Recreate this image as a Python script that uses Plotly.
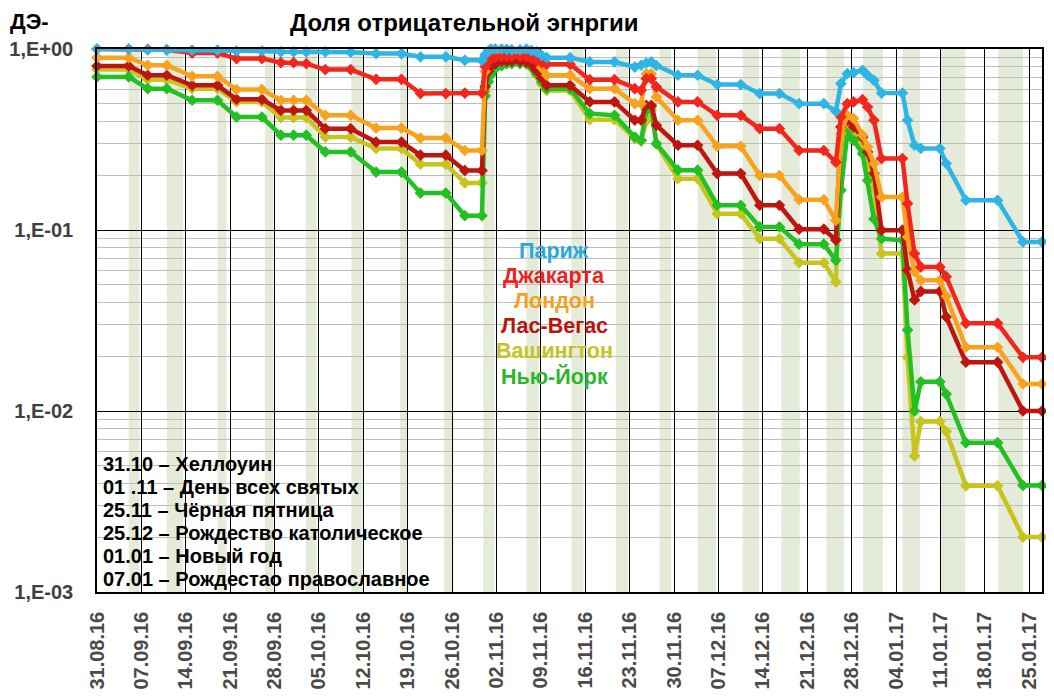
import plotly.graph_objects as go

# days counted from 31.08.16
day = [0, 5, 8, 11, 15, 19, 22, 26, 29, 31,
       33, 36, 40, 44, 48, 51, 55, 58, 60.7, 61.2,
       61.7, 62.1, 62.8, 63.8, 64.6, 65.4, 66.7, 67.7, 68.5, 69.3,
       70.1, 70.9, 74.6, 77.7, 81.6, 84.8, 85.8, 86.6, 87.4, 88.2,
       91.6, 94.7, 97.8, 101.5, 104.5, 107.6, 110.7, 114.6, 116.5, 117.3,
       118.3, 119.3, 120.7, 121.5, 122.5, 123.7, 127.0, 127.8, 128.9, 129.9,
       132.9, 133.9, 137.0, 142.0, 146.0, 149.0]

paris = [1.0, 1.0, 0.99, 0.99, 0.985, 0.985, 0.975, 0.975, 0.965, 0.965,
         0.965, 0.965, 0.96, 0.943, 0.943, 0.905, 0.905, 0.866, 0.866, 0.93,
         0.975, 1.0, 1.0, 1.0, 0.995, 0.99, 0.99, 1.0, 0.98, 0.963,
         0.923, 0.896, 0.896, 0.848, 0.848, 0.795, 0.813, 0.837, 0.848, 0.81,
         0.716, 0.716, 0.636, 0.636, 0.567, 0.567, 0.499, 0.499, 0.453, 0.644,
         0.731, 0.74, 0.763, 0.716, 0.671, 0.571, 0.571, 0.404, 0.294, 0.282,
         0.282, 0.233, 0.146, 0.146, 0.0859, 0.0859]

jakarta = [1.0, 1.0, 0.995, 0.99, 0.95, 0.95, 0.885, 0.885, 0.841, 0.841,
           0.83, 0.77, 0.77, 0.68, 0.68, 0.567, 0.567, 0.571, 0.571, 0.8,
           0.86, 0.88, 0.9, 0.91, 0.91, 0.91, 0.91, 0.905, 0.885, 0.86,
           0.84, 0.823, 0.823, 0.677, 0.677, 0.604, 0.591, 0.686, 0.686, 0.617,
           0.51, 0.51, 0.43, 0.43, 0.363, 0.363, 0.275, 0.275, 0.237, 0.421,
           0.499, 0.51, 0.525, 0.478, 0.404, 0.248, 0.248, 0.14, 0.0741, 0.0625,
           0.0625, 0.0552, 0.0305, 0.0305, 0.0198, 0.0198]

london = [0.896, 0.896, 0.813, 0.813, 0.706, 0.706, 0.597, 0.597, 0.521, 0.521,
          0.521, 0.43, 0.43, 0.366, 0.366, 0.322, 0.322, 0.275, 0.275, 0.75,
          0.86, 0.9, 0.93, 0.945, 0.945, 0.945, 0.945, 0.94, 0.92, 0.87,
          0.79, 0.716, 0.716, 0.604, 0.604, 0.499, 0.499, 0.731, 0.731, 0.543,
          0.404, 0.404, 0.29, 0.29, 0.2, 0.2, 0.147, 0.147, 0.113, 0.341,
          0.43, 0.413, 0.334, 0.288, 0.233, 0.152, 0.152, 0.0915, 0.0588, 0.0527,
          0.0527, 0.043, 0.0225, 0.0225, 0.0141, 0.0141]

vegas = [0.806, 0.806, 0.716, 0.716, 0.63, 0.63, 0.527, 0.527, 0.458, 0.458,
         0.458, 0.363, 0.363, 0.306, 0.306, 0.259, 0.259, 0.213, 0.213, 0.62,
         0.75, 0.8, 0.83, 0.858, 0.858, 0.858, 0.858, 0.85, 0.82, 0.76,
         0.69, 0.63, 0.63, 0.51, 0.51, 0.404, 0.404, 0.489, 0.489, 0.379,
         0.294, 0.294, 0.205, 0.205, 0.137, 0.137, 0.101, 0.101, 0.088, 0.371,
         0.404, 0.371, 0.326, 0.27, 0.205, 0.0998, 0.0998, 0.06, 0.0411, 0.0458,
         0.0458, 0.0331, 0.0186, 0.0186, 0.01, 0.01]

washington = [0.77, 0.77, 0.677, 0.677, 0.604, 0.604, 0.51, 0.51, 0.418, 0.418,
              0.418, 0.326, 0.326, 0.282, 0.282, 0.231, 0.231, 0.182, 0.182, 0.58,
              0.7, 0.76, 0.8, 0.835, 0.835, 0.835, 0.835, 0.83, 0.79, 0.72,
              0.64, 0.59, 0.59, 0.407, 0.407, 0.32, 0.31, 0.4, 0.46, 0.3,
              0.192, 0.192, 0.123, 0.123, 0.0895, 0.0895, 0.066, 0.066, 0.0516, 0.3,
              0.387, 0.341, 0.3, 0.24, 0.17, 0.0741, 0.0741, 0.0198, 0.00564, 0.00875,
              0.00875, 0.0077, 0.00386, 0.00386, 0.00201, 0.00201]

newyork = [0.701, 0.701, 0.604, 0.604, 0.521, 0.521, 0.421, 0.421, 0.334, 0.334,
           0.334, 0.27, 0.27, 0.209, 0.209, 0.16, 0.16, 0.12, 0.12, 0.55,
           0.66, 0.72, 0.78, 0.81, 0.83, 0.83, 0.83, 0.83, 0.795, 0.73,
           0.66, 0.604, 0.604, 0.44, 0.43, 0.326, 0.313, 0.46, 0.478, 0.3,
           0.214, 0.214, 0.137, 0.137, 0.104, 0.104, 0.0835, 0.0835, 0.068, 0.166,
           0.341, 0.313, 0.264, 0.188, 0.115, 0.0895, 0.0879, 0.028, 0.01, 0.0145,
           0.0145, 0.0124, 0.00668, 0.00668, 0.00388, 0.00388]

# shaded bands (start, end in days)
band_start = [5.0, 11.0, 19.0, 26.5, 32.9, 40.1, 47.8, 54.7, 60.9, 67.7, 74.8,
              81.8, 88.7, 94.7, 101.8, 107.9, 115.0, 120.8, 127.0, 133.0, 142.1]
band_end = [6.7, 13.6, 20.4, 27.8, 34.6, 41.9, 49.0, 56.2, 62.7, 69.6, 76.7,
            83.7, 90.5, 97.6, 104.4, 110.8, 117.8, 123.9, 129.8, 136.9, 146.0]

tick_labels = ["31.08.16", "07.09.16", "14.09.16", "21.09.16", "28.09.16", "05.10.16",
               "12.10.16", "19.10.16", "26.10.16", "02.11.16", "09.11.16", "16.11.16",
               "23.11.16", "30.11.16", "07.12.16", "14.12.16", "21.12.16", "28.12.16",
               "04.01.17", "11.01.17", "18.01.17", "25.01.17"]
tick_days = list(range(0, 148, 7))

names = ["Париж", "Джакарта", "Лондон", "Лас-Вегас", "Вашингтон", "Нью-Йорк"]
colors = ["#2FB4E6", "#F2261C", "#F8A21D", "#BE150E", "#C8C41E", "#22C022"]
label_colors = ["#29A9E1", "#EE2020", "#F4A11D", "#B9140E", "#C5C222", "#2DB52D"]
series = [paris, jakarta, london, vegas, washington, newyork]

notes = ["31.10 – Хеллоуин", "01 .11 – День всех святых", "25.11 – Чёрная пятница",
         "25.12 – Рождество католическое", "01.01 – Новый год",
         "07.01 – Рождестао православное"]

FONT = "Liberation Sans, Arial, sans-serif"
# plot area in page pixels; the page body adds an 8px offset
OFF = 8
L, T, W, H = 97, 49, 945, 543
FW, FH = 1054 - OFF, 700 - OFF


def px(x):
    return (x - L) / W


def py(y):
    return 1 - (y - T) / H


fig = go.Figure()

for i in [4, 5, 3, 2, 1, 0]:
    fig.add_trace(go.Scatter(
        x=day, y=series[i], name=names[i], mode="lines+markers",
        line=dict(color=colors[i], width=4.5),
        marker=dict(symbol="diamond", size=9, color=colors[i]),
        cliponaxis=False, showlegend=False))

for s, e in zip(band_start, band_end):
    fig.add_shape(type="rect", xref="x", yref="paper", x0=s, x1=e, y0=0, y1=1,
                  fillcolor="#E4EBD9", line=dict(width=0), layer="below")

# title and axis label
fig.add_annotation(text="Доля отрицательной эгнргии", xref="paper", yref="paper",
                   x=px(464), y=py(OFF), showarrow=False, xanchor="center", yanchor="top",
                   borderpad=0, font=dict(family=FONT, size=24, color="black", weight="bold"))
fig.add_annotation(text="ДЭ-", xref="paper", yref="paper",
                   x=px(OFF + 1), y=py(OFF), showarrow=False, xanchor="left", yanchor="top",
                   borderpad=0, font=dict(family=FONT, size=22, color="black", weight="bold"))

# city labels
label_y = [251, 276, 301, 326, 351, 376]
for name, c, y in zip(names, label_colors, label_y):
    fig.add_annotation(text=name, xref="paper", yref="paper", x=px(554), y=py(y),
                       showarrow=False, xanchor="center", yanchor="middle",
                       font=dict(family=FONT, size=21.5, color=c, weight="bold"))

# holiday notes
note_y = [464, 487, 510, 533, 556, 579]
for t, y in zip(notes, note_y):
    fig.add_annotation(text=t, xref="paper", yref="paper", x=px(101), y=py(y),
                       showarrow=False, xanchor="left", yanchor="middle",
                       font=dict(family=FONT, size=20, color="black", weight="bold"))

minor_vals = [m * 10 ** k for k in (-3, -2, -1) for m in range(2, 10)]

fig.update_xaxes(range=[0, 149], tickvals=tick_days, ticktext=tick_labels, tickangle=-90,
                 showgrid=True, gridcolor="black", gridwidth=1, zeroline=False,
                 showline=True, mirror=True, linecolor="black", linewidth=1.5,
                 ticks="", ticklabelstandoff=10, automargin=False,
                 tickfont=dict(family=FONT, size=20, color="#4A4A4A", weight="bold"))

fig.update_yaxes(type="log", range=[-3, 0], tickvals=[1, 0.1, 0.01, 0.001],
                 ticktext=["1,E+00", "1,E-01", "1,E-02", "1,E-03"],
                 showgrid=True, gridcolor="black", gridwidth=1, zeroline=False,
                 showline=True, mirror=True, linecolor="black", linewidth=1.5,
                 ticks="", ticklabelstandoff=18, automargin=False,
                 minor=dict(tickvals=minor_vals, showgrid=True, gridcolor="#BDBDBD",
                            gridwidth=1, ticks=""),
                 tickfont=dict(family=FONT, size=20, color="#404040", weight="bold"))

fig.update_layout(width=FW, height=FH,
                  margin=dict(l=L - OFF, r=FW - (L - OFF) - W, t=T - OFF, b=FH - (T - OFF) - H),
                  plot_bgcolor="white", paper_bgcolor="white", showlegend=False)

fig.write_html("out.html")
